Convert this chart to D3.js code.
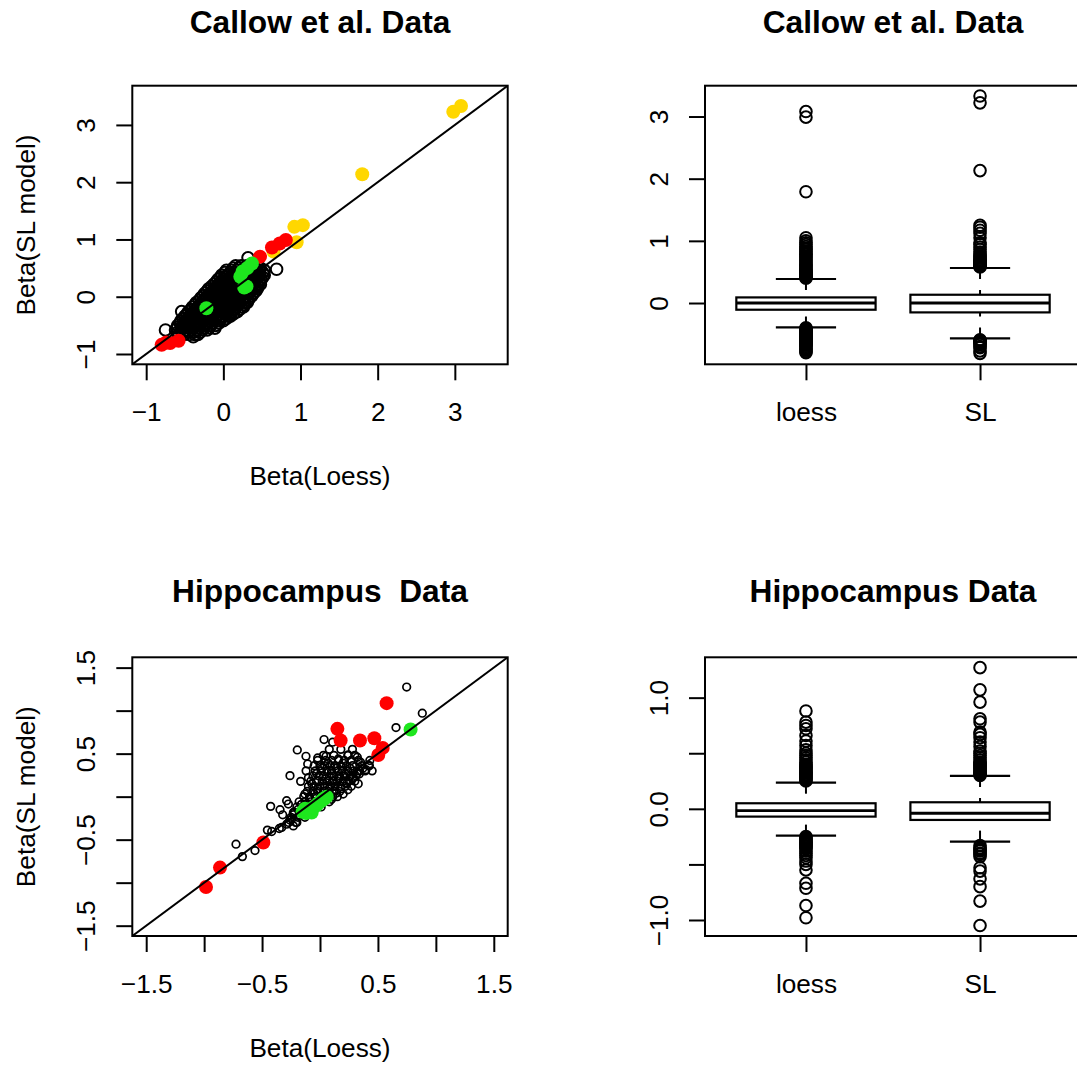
<!DOCTYPE html>
<html>
<head>
<meta charset="utf-8">
<script src="https://cdn.jsdelivr.net/npm/d3@7"></script>
<style>
  body { margin: 0; background: #fff; }
  svg text { font-family: "Liberation Sans", Arial, Helvetica, sans-serif; fill: #000; }
</style>
</head>
<body>
<div id="canvas"></div>
<script>
// ---- tick values / labels ----
const callowTicks = [-1, 0, 1, 2, 3]
const callowTickLabels = ['\u22121', '0', '1', '2', '3']
const hippoTicks = [-1.5, -1, -0.5, 0, 0.5, 1, 1.5]
const hippoTickLabels = ['\u22121.5', '', '\u22120.5', '', '0.5', '', '1.5']
const callowBoxTicks = [0, 1, 2, 3]
const callowBoxTickLabels = ['0', '1', '2', '3']
const hippoBoxTicks = [-1, -0.5, 0, 0.5, 1]
const hippoBoxTickLabels = ['\u22121.0', '', '0.0', '', '1.0']
const boxNames = ['loess', 'SL']

// ---- Callow scatter: [Beta(Loess), Beta(SL model)] ----
const callowBlack = [
  [0.16,0.54],[0.23,0.54],[0.30,0.54],[0.37,0.54],[0.44,0.54],
  [0.13,0.50],[0.20,0.50],[0.27,0.50],[0.34,0.50],[0.41,0.50],[0.48,0.50],
  [0.04,0.46],[0.11,0.46],[0.18,0.46],[0.25,0.46],[0.32,0.46],[0.39,0.46],[0.46,0.46],[0.53,0.46],
  [0.02,0.42],[0.09,0.42],[0.16,0.42],[0.23,0.42],[0.30,0.42],[0.37,0.42],[0.44,0.42],[0.51,0.42],
  [-0.02,0.38],[0.05,0.38],[0.12,0.38],[0.19,0.38],[0.26,0.38],[0.33,0.38],[0.40,0.38],[0.47,0.38],[0.53,0.38],
  [-0.04,0.34],[0.03,0.34],[0.10,0.34],[0.17,0.34],[0.24,0.34],[0.31,0.34],[0.38,0.34],[0.45,0.34],[0.51,0.34],
  [-0.07,0.30],[0.00,0.30],[0.07,0.30],[0.14,0.30],[0.21,0.30],[0.28,0.30],[0.35,0.30],[0.42,0.30],[0.49,0.30],
  [-0.09,0.26],[-0.02,0.26],[0.05,0.26],[0.12,0.26],[0.19,0.26],[0.26,0.26],[0.33,0.26],[0.40,0.26],[0.47,0.26],
  [-0.12,0.22],[-0.05,0.22],[0.02,0.22],[0.09,0.22],[0.16,0.22],[0.23,0.22],[0.30,0.22],[0.37,0.22],[0.44,0.22],[0.48,0.22],
  [-0.15,0.18],[-0.08,0.18],[-0.01,0.18],[0.06,0.18],[0.13,0.18],[0.20,0.18],[0.27,0.18],[0.34,0.18],[0.41,0.18],[0.45,0.18],
  [-0.19,0.14],[-0.12,0.14],[-0.05,0.14],[0.02,0.14],[0.09,0.14],[0.16,0.14],[0.23,0.14],[0.30,0.14],[0.37,0.14],[0.44,0.14],
  [-0.21,0.10],[-0.14,0.10],[-0.07,0.10],[0.00,0.10],[0.07,0.10],[0.14,0.10],[0.21,0.10],[0.28,0.10],[0.35,0.10],[0.42,0.10],
  [-0.24,0.06],[-0.17,0.06],[-0.10,0.06],[-0.03,0.06],[0.04,0.06],[0.11,0.06],[0.18,0.06],[0.25,0.06],[0.32,0.06],[0.39,0.06],
  [-0.26,0.02],[-0.19,0.02],[-0.12,0.02],[-0.05,0.02],[0.02,0.02],[0.09,0.02],[0.16,0.02],[0.23,0.02],[0.30,0.02],[0.37,0.02],
  [-0.29,-0.02],[-0.22,-0.02],[-0.15,-0.02],[-0.08,-0.02],[-0.01,-0.02],[0.06,-0.02],[0.13,-0.02],[0.20,-0.02],[0.27,-0.02],[0.34,-0.02],
  [-0.31,-0.06],[-0.24,-0.06],[-0.17,-0.06],[-0.10,-0.06],[-0.03,-0.06],[0.04,-0.06],[0.11,-0.06],[0.18,-0.06],[0.25,-0.06],[0.32,-0.06],
  [-0.35,-0.10],[-0.28,-0.10],[-0.21,-0.10],[-0.14,-0.10],[-0.07,-0.10],[0.00,-0.10],[0.07,-0.10],[0.14,-0.10],[0.21,-0.10],[0.28,-0.10],[0.31,-0.10],
  [-0.37,-0.14],[-0.30,-0.14],[-0.23,-0.14],[-0.16,-0.14],[-0.09,-0.14],[-0.02,-0.14],[0.05,-0.14],[0.12,-0.14],[0.19,-0.14],[0.27,-0.14],
  [-0.40,-0.18],[-0.33,-0.18],[-0.26,-0.18],[-0.19,-0.18],[-0.12,-0.18],[-0.05,-0.18],[0.02,-0.18],[0.09,-0.18],[0.16,-0.18],[0.23,-0.18],[0.26,-0.18],
  [-0.42,-0.22],[-0.35,-0.22],[-0.28,-0.22],[-0.21,-0.22],[-0.14,-0.22],[-0.07,-0.22],[0.00,-0.22],[0.07,-0.22],[0.14,-0.22],[0.21,-0.22],
  [-0.45,-0.26],[-0.38,-0.26],[-0.31,-0.26],[-0.24,-0.26],[-0.17,-0.26],[-0.10,-0.26],[-0.03,-0.26],[0.04,-0.26],[0.11,-0.26],[0.18,-0.26],
  [-0.47,-0.30],[-0.40,-0.30],[-0.33,-0.30],[-0.26,-0.30],[-0.19,-0.30],[-0.12,-0.30],[-0.05,-0.30],[0.02,-0.30],[0.09,-0.30],[0.13,-0.30],
  [-0.50,-0.34],[-0.43,-0.34],[-0.36,-0.34],[-0.29,-0.34],[-0.22,-0.34],[-0.15,-0.34],[-0.08,-0.34],[-0.01,-0.34],[0.06,-0.34],[0.09,-0.34],
  [-0.52,-0.38],[-0.45,-0.38],[-0.38,-0.38],[-0.31,-0.38],[-0.24,-0.38],[-0.17,-0.38],[-0.10,-0.38],[-0.03,-0.38],[0.04,-0.38],
  [-0.55,-0.42],[-0.48,-0.42],[-0.41,-0.42],[-0.34,-0.42],[-0.27,-0.42],[-0.20,-0.42],[-0.13,-0.42],[-0.06,-0.42],[0.00,-0.42],
  [-0.56,-0.46],[-0.49,-0.46],[-0.42,-0.46],[-0.35,-0.46],[-0.28,-0.46],[-0.21,-0.46],[-0.14,-0.46],[-0.06,-0.46],
  [-0.59,-0.50],[-0.52,-0.50],[-0.45,-0.50],[-0.38,-0.50],[-0.31,-0.50],[-0.24,-0.50],[-0.17,-0.50],[-0.10,-0.50],
  [-0.60,-0.54],[-0.53,-0.54],[-0.46,-0.54],[-0.39,-0.54],[-0.32,-0.54],[-0.25,-0.54],[-0.18,-0.54],
  [-0.62,-0.58],[-0.55,-0.58],[-0.48,-0.58],[-0.41,-0.58],[-0.34,-0.58],[-0.27,-0.58],[-0.21,-0.58],
  [-0.59,-0.62],[-0.52,-0.62],[-0.45,-0.62],[-0.38,-0.62],[-0.30,-0.62],
  [-0.58,-0.66],[-0.51,-0.66],[-0.44,-0.66],[-0.37,-0.66],[-0.33,-0.66],
  [0.32,0.68],[0.69,0.48],[-0.54,-0.26],[-0.75,-0.58],[-0.11,-0.55],[-0.39,-0.70]
]
const callowGold = [[2.98,3.23],[3.08,3.33],[1.80,2.14],[0.65,0.79],[0.95,0.95],[0.92,1.22],[1.03,1.25]]
const callowRed = [[0.475,0.70],[0.63,0.86],[0.73,0.93],[0.81,0.99],[-0.80,-0.84],[-0.74,-0.80],[-0.69,-0.81],[-0.58,-0.77]]
const callowGreen = [[-0.22,-0.20],[0.37,0.58],[0.31,0.50],[0.25,0.44],[0.22,0.35],[0.27,0.16],[0.30,0.18]]

// ---- Callow boxplots: [lower whisker, Q1, median, Q3, upper whisker] ----
const callowLoessStats = [-0.392, -0.108, 0.0, 0.09, 0.386]
const callowSLStats = [-0.569, -0.151, 0.0, 0.133, 0.563]
const callowLoessOut = [0.40,0.41,0.42,0.43,0.44,0.45,0.46,0.47,0.48,0.49,0.50,0.52,0.53,0.55,0.57,0.59,0.61,0.63,0.65,0.68,0.70,0.73,0.75,0.78,0.80,0.83,0.86,0.88,0.91,0.94,0.97,1.00,1.05,1.79,2.99,3.08,
  -0.40,-0.41,-0.42,-0.43,-0.44,-0.45,-0.46,-0.47,-0.48,-0.49,-0.50,-0.51,-0.52,-0.53,-0.54,-0.55,-0.56,-0.57,-0.58,-0.59,-0.60,-0.61,-0.62,-0.63,-0.64,-0.65,-0.66,-0.67,-0.68,-0.70,-0.72,-0.74,-0.76,-0.78,-0.80]
const callowSLOut = [0.58,0.59,0.60,0.61,0.62,0.63,0.64,0.65,0.66,0.67,0.68,0.70,0.72,0.74,0.76,0.79,0.82,0.86,0.90,0.94,0.97,1.05,1.12,1.17,1.22,1.25,2.13,3.22,3.33,
  -0.59,-0.60,-0.61,-0.62,-0.63,-0.65,-0.67,-0.70,-0.72,-0.77,-0.81]

// ---- Hippocampus scatter ----
const hippoBlack = [
  [0.748,1.274],[0.883,0.970],[0.656,0.803],[0.035,0.664],[0.109,0.633],[-0.196,0.543],[-0.121,0.469],[-0.106,0.380],
  [-0.259,0.244],[-0.167,0.178],[0.052,0.469],[0.158,0.438],[0.244,0.485],[0.322,0.458],[0.426,0.361],[0.397,0.314],
  [0.339,0.264],[0.288,0.225],[-0.426,-0.113],[-0.345,-0.152],[-0.322,-0.211],[-0.288,-0.047],[-0.273,-0.086],
  [-0.454,-0.389],[-0.417,-0.405],[-0.351,-0.370],[-0.331,-0.358],[-0.725,-0.553],[-0.670,-0.697],[-0.561,-0.627],
  [-0.23,-0.184],[-0.244,-0.26],[-0.20,-0.30],[-0.288,-0.32],[-0.23,-0.34],
  [0.03,0.48],[0.12,0.48],[0.24,0.48],[0.30,0.48],
  [-0.02,0.42],[0.05,0.42],[0.10,0.42],[0.16,0.42],[0.21,0.42],[0.27,0.42],[0.33,0.42],
  [0.00,0.36],[0.04,0.36],[0.09,0.36],[0.13,0.36],[0.18,0.36],[0.23,0.36],[0.28,0.36],[0.36,0.36],[0.42,0.36],
  [-0.04,0.30],[0.01,0.30],[0.06,0.30],[0.10,0.30],[0.15,0.30],[0.19,0.30],[0.24,0.30],[0.29,0.30],[0.34,0.30],[0.39,0.30],
  [-0.06,0.24],[-0.01,0.24],[0.03,0.24],[0.08,0.24],[0.12,0.24],[0.17,0.24],[0.21,0.24],[0.26,0.24],[0.31,0.24],
  [-0.08,0.18],[-0.03,0.18],[0.02,0.18],[0.06,0.18],[0.11,0.18],[0.15,0.18],[0.20,0.18],[0.25,0.18],[0.30,0.18],
  [-0.10,0.12],[-0.05,0.12],[0.00,0.12],[0.04,0.12],[0.09,0.12],[0.13,0.12],[0.18,0.12],[0.22,0.12],[0.27,0.12],
  [-0.11,0.06],[-0.06,0.06],[-0.02,0.06],[0.03,0.06],[0.07,0.06],[0.12,0.06],[0.17,0.06],
  [-0.14,0.00],[-0.09,0.00],[-0.04,0.00],[0.01,0.00],[0.06,0.00],[0.11,0.00],[0.15,0.00],
  [-0.18,-0.06],[-0.13,-0.06],[-0.08,-0.06],[-0.03,-0.06],[0.02,-0.06],[0.08,-0.06],
  [-0.20,-0.12],[-0.15,-0.12],[-0.10,-0.12],[-0.05,-0.12],[0.01,-0.12],
  [-0.22,-0.18],[-0.17,-0.18],[-0.12,-0.18],[-0.07,-0.18],
  [-0.25,-0.24],[-0.19,-0.24],[-0.13,-0.24],
  [-0.27,-0.30],[-0.21,-0.30],
  [-0.02,0.45],[0.07,0.39],[0.14,0.33],[0.20,0.39],[0.26,0.33],[0.32,0.27],[0.37,0.33],[0.02,0.33],[-0.03,0.27],
  [0.05,0.21],[0.10,0.27],[0.16,0.21],[0.22,0.27],[0.28,0.21],[0.23,0.15],[0.18,0.09],[0.13,0.15],[0.08,0.09],
  [0.03,0.15],[-0.02,0.09],[-0.07,0.15],[-0.05,0.03],[0.00,-0.03],[0.05,0.03],[0.10,-0.03],[0.14,0.04],[-0.09,-0.03],
  [-0.13,0.03],[-0.16,-0.09],[-0.11,-0.09],[-0.06,-0.09],[-0.19,-0.15],[-0.14,-0.15],[-0.23,-0.21],[-0.18,-0.21],
  [-0.26,-0.27],[0.20,0.03],[0.24,0.08],[0.33,0.15],[-0.10,0.22],[-0.12,0.30],[0.43,0.42],[0.45,0.30],[0.35,0.40],
  [0.18,0.55],[0.08,0.55],[-0.05,0.36],[0.28,0.55]
]
const hippoRed = [[-0.984,-1.05],[-0.863,-0.825],[-0.489,-0.533],[0.575,1.087],[0.15,0.788],[0.178,0.652],[0.345,0.652],[0.469,0.679],[0.541,0.567],[0.503,0.485]]
const hippoGreen = [[0.782,0.780],[-0.150,-0.176],[-0.120,-0.190],[-0.130,-0.140],[-0.100,-0.153],[-0.072,-0.184],[-0.058,-0.125],[-0.030,-0.100],
  [-0.014,-0.075],[0.010,-0.050],[0.029,-0.028],[0.040,-0.020],[0.058,0.0]]

// ---- Hippocampus boxplots ----
const hippoLoessStats = [-0.241, -0.07, -0.017, 0.05, 0.235]
const hippoSLStats = [-0.295, -0.10, -0.04, 0.059, 0.296]
const hippoLoessOut = [0.25,0.26,0.27,0.28,0.29,0.30,0.31,0.32,0.33,0.34,0.35,0.36,0.37,0.38,0.39,0.40,0.42,0.44,0.46,0.48,0.50,0.53,0.57,0.61,0.66,0.72,0.75,0.78,0.88,
  -0.25,-0.26,-0.27,-0.28,-0.29,-0.30,-0.31,-0.32,-0.33,-0.34,-0.35,-0.36,-0.38,-0.40,-0.42,-0.44,-0.47,-0.50,-0.55,-0.67,-0.715,-0.87,-0.98]
const hippoSLOut = [0.30,0.31,0.32,0.33,0.34,0.35,0.36,0.37,0.38,0.39,0.40,0.41,0.42,0.44,0.46,0.48,0.50,0.52,0.56,0.60,0.64,0.67,0.69,0.78,0.81,0.96,1.07,1.27,
  -0.33,-0.35,-0.36,-0.37,-0.38,-0.40,-0.41,-0.43,-0.53,-0.56,-0.63,-0.70,-0.83,-1.05]

var svg = d3.select('#canvas').append('svg')
    .attr('width', 1077)
    .attr('height', 1068)

var clipCount = 0
var AXIS_FONT = 26.2

function panel(p) {
  var x = d3.scaleLinear().domain(p.xDomain).range([p.left, p.right]),
    y = d3.scaleLinear().domain(p.yDomain).range([p.bottom, p.top])
  var g = svg.append('g')
  var id = 'clip' + (clipCount++)
  g.append('clipPath').attr('id', id)
    .append('rect')
      .attr('x', p.left).attr('y', p.top)
      .attr('width', p.right - p.left).attr('height', p.bottom - p.top)
  var plot = g.append('g').attr('clip-path', 'url(#' + id + ')')

  // bottom axis
  var ax = g.append('g')
      .attr('transform', 'translate(0,' + p.bottom + ')')
      .call(d3.axisBottom(x).tickValues(p.xTicks).tickFormat((d, i) => p.xTickLabels[i]).tickSize(16).tickSizeOuter(0))
  ax.select('.domain').remove()
  ax.selectAll('line').attr('stroke', '#000').attr('stroke-width', 2)
  ax.selectAll('text')
      .attr('y', 57).attr('dy', null)
      .attr('font-size', AXIS_FONT)
      .attr('font-family', '"Liberation Sans", Arial, sans-serif')
      .attr('fill', '#000')

  // left axis, labels rotated like R
  var ay = g.append('g')
      .attr('transform', 'translate(' + p.left + ',0)')
      .call(d3.axisLeft(y).tickValues(p.yTicks).tickFormat((d, i) => p.yTickLabels[i]).tickSize(16).tickSizeOuter(0))
  ay.select('.domain').remove()
  ay.selectAll('line').attr('stroke', '#000').attr('stroke-width', 2)
  ay.selectAll('text')
      .attr('x', 0).attr('y', -37).attr('dy', null)
      .attr('text-anchor', 'middle')
      .attr('transform', 'rotate(-90)')
      .attr('font-size', AXIS_FONT)
      .attr('font-family', '"Liberation Sans", Arial, sans-serif')
      .attr('fill', '#000')

  var cx = (p.left + p.right) / 2
  g.append('text')
      .attr('x', cx).attr('y', p.titleY)
      .attr('text-anchor', 'middle')
      .attr('font-size', 31.7)
      .attr('font-weight', 'bold')
      .style('white-space', 'pre')
      .text(p.title)

  if (p.xlab) {
    g.append('text')
        .attr('x', cx).attr('y', p.bottom + 121)
        .attr('text-anchor', 'middle')
        .attr('font-size', AXIS_FONT)
        .text(p.xlab)
  }
  if (p.ylab) {
    var cy = (p.top + p.bottom) / 2
    g.append('text')
        .attr('transform', 'translate(' + (p.left - 97) + ',' + cy + ') rotate(-90)')
        .attr('text-anchor', 'middle')
        .attr('font-size', AXIS_FONT)
        .text(p.ylab)
  }

  return {g: g, plot: plot, x: x, y: y, p: p}
}

function frame(P) {
  P.g.append('rect')
      .attr('x', P.p.left).attr('y', P.p.top)
      .attr('width', P.p.right - P.p.left).attr('height', P.p.bottom - P.p.top)
      .attr('fill', 'none').attr('stroke', '#000').attr('stroke-width', 2)
}

function scatter(P, black, blackR, blackW, colored) {
  P.plot.selectAll(null)
    .data(black)
      .enter()
    .append('circle')
      .attr('cx', d => P.x(d[0]))
      .attr('cy', d => P.y(d[1]))
      .attr('r', blackR)
      .attr('fill', 'none')
      .attr('stroke', '#000')
      .attr('stroke-width', blackW)
  colored.forEach(function (c) {
    P.plot.selectAll(null)
      .data(c.pts)
        .enter()
      .append('circle')
        .attr('cx', d => P.x(d[0]))
        .attr('cy', d => P.y(d[1]))
        .attr('r', 7)
        .attr('fill', c.color)
  })
  frame(P)
  // y = x reference line
  var d = P.x.domain()
  P.plot.append('line')
      .attr('x1', P.x(d[0])).attr('y1', P.y(d[0]))
      .attr('x2', P.x(d[1])).attr('y2', P.y(d[1]))
      .attr('stroke', '#000').attr('stroke-width', 2)
}

function boxplot(P, stats, outs) {
  stats.forEach(function (s, i) {
    var pos = i + 1
    var xl = P.x(pos - 0.4), xr = P.x(pos + 0.4), xc = P.x(pos)
    var sl = P.x(pos - 0.173), sr = P.x(pos + 0.173)
    var g = P.plot.append('g').attr('stroke', '#000').attr('fill', 'none')
    // whiskers (dashed) drawn from whisker end towards the box
    g.append('line').attr('x1', xc).attr('x2', xc).attr('y1', P.y(s[4])).attr('y2', P.y(s[3]))
        .attr('stroke-width', 2).attr('stroke-dasharray', '11,11')
    g.append('line').attr('x1', xc).attr('x2', xc).attr('y1', P.y(s[0])).attr('y2', P.y(s[1]))
        .attr('stroke-width', 2).attr('stroke-dasharray', '11,11')
    // staples
    g.selectAll(null).data([s[0], s[4]]).enter().append('line')
        .attr('x1', sl).attr('x2', sr)
        .attr('y1', d => P.y(d)).attr('y2', d => P.y(d))
        .attr('stroke-width', 2.2)
    // box
    g.append('rect')
        .attr('x', xl).attr('y', P.y(s[3]))
        .attr('width', xr - xl).attr('height', P.y(s[1]) - P.y(s[3]))
        .attr('stroke-width', 2.2)
    g.append('line').attr('x1', xl).attr('x2', xr).attr('y1', P.y(s[2])).attr('y2', P.y(s[2]))
        .attr('stroke-width', 2.8)
    g.selectAll('circle').data(outs[i]).enter().append('circle')
        .attr('cx', xc).attr('cy', d => P.y(d))
        .attr('r', 5.8)
        .attr('stroke-width', 2)
  })
  frame(P)
}

// ---- panels ----
var p1 = panel({
  left: 132.3, right: 507.7, top: 85.7, bottom: 364.3,
  xDomain: [-1.18, 3.685], yDomain: [-1.18, 3.685],
  xTicks: callowTicks, xTickLabels: callowTickLabels,
  yTicks: callowTicks, yTickLabels: callowTickLabels,
  title: 'Callow et al. Data', titleY: 32.5,
  xlab: 'Beta(Loess)', ylab: 'Beta(SL model)'
})
scatter(p1, callowBlack, 5.8, 2, [
  {pts: callowGold, color: '#FFD700'},
  {pts: callowRed, color: '#FF0000'},
  {pts: callowGreen, color: '#1EE61E'}
])

var p2 = panel({
  left: 705, right: 1081, top: 85.7, bottom: 364.3,
  xDomain: [0.42, 2.58], yDomain: [-0.986, 3.496],
  xTicks: [1, 2], xTickLabels: boxNames,
  yTicks: callowBoxTicks, yTickLabels: callowBoxTickLabels,
  title: 'Callow et al. Data', titleY: 32.5
})
boxplot(p2, [callowLoessStats, callowSLStats], [callowLoessOut, callowSLOut])

var p3 = panel({
  left: 132.3, right: 507.7, top: 657.3, bottom: 936,
  xDomain: [-1.62, 1.62], yDomain: [-1.62, 1.62],
  xTicks: hippoTicks, xTickLabels: hippoTickLabels,
  yTicks: hippoTicks, yTickLabels: hippoTickLabels,
  title: 'Hippocampus  Data', titleY: 602,
  xlab: 'Beta(Loess)', ylab: 'Beta(SL model)'
})
scatter(p3, hippoBlack, 3.8, 1.7, [
  {pts: hippoRed, color: '#FF0000'},
  {pts: hippoGreen, color: '#1EE61E'}
])

var p4 = panel({
  left: 705, right: 1081, top: 657.3, bottom: 936,
  xDomain: [0.42, 2.58], yDomain: [-1.144, 1.363],
  xTicks: [1, 2], xTickLabels: boxNames,
  yTicks: hippoBoxTicks, yTickLabels: hippoBoxTickLabels,
  title: 'Hippocampus Data', titleY: 602
})
boxplot(p4, [hippoLoessStats, hippoSLStats], [hippoLoessOut, hippoSLOut])
</script>
</body>
</html>
